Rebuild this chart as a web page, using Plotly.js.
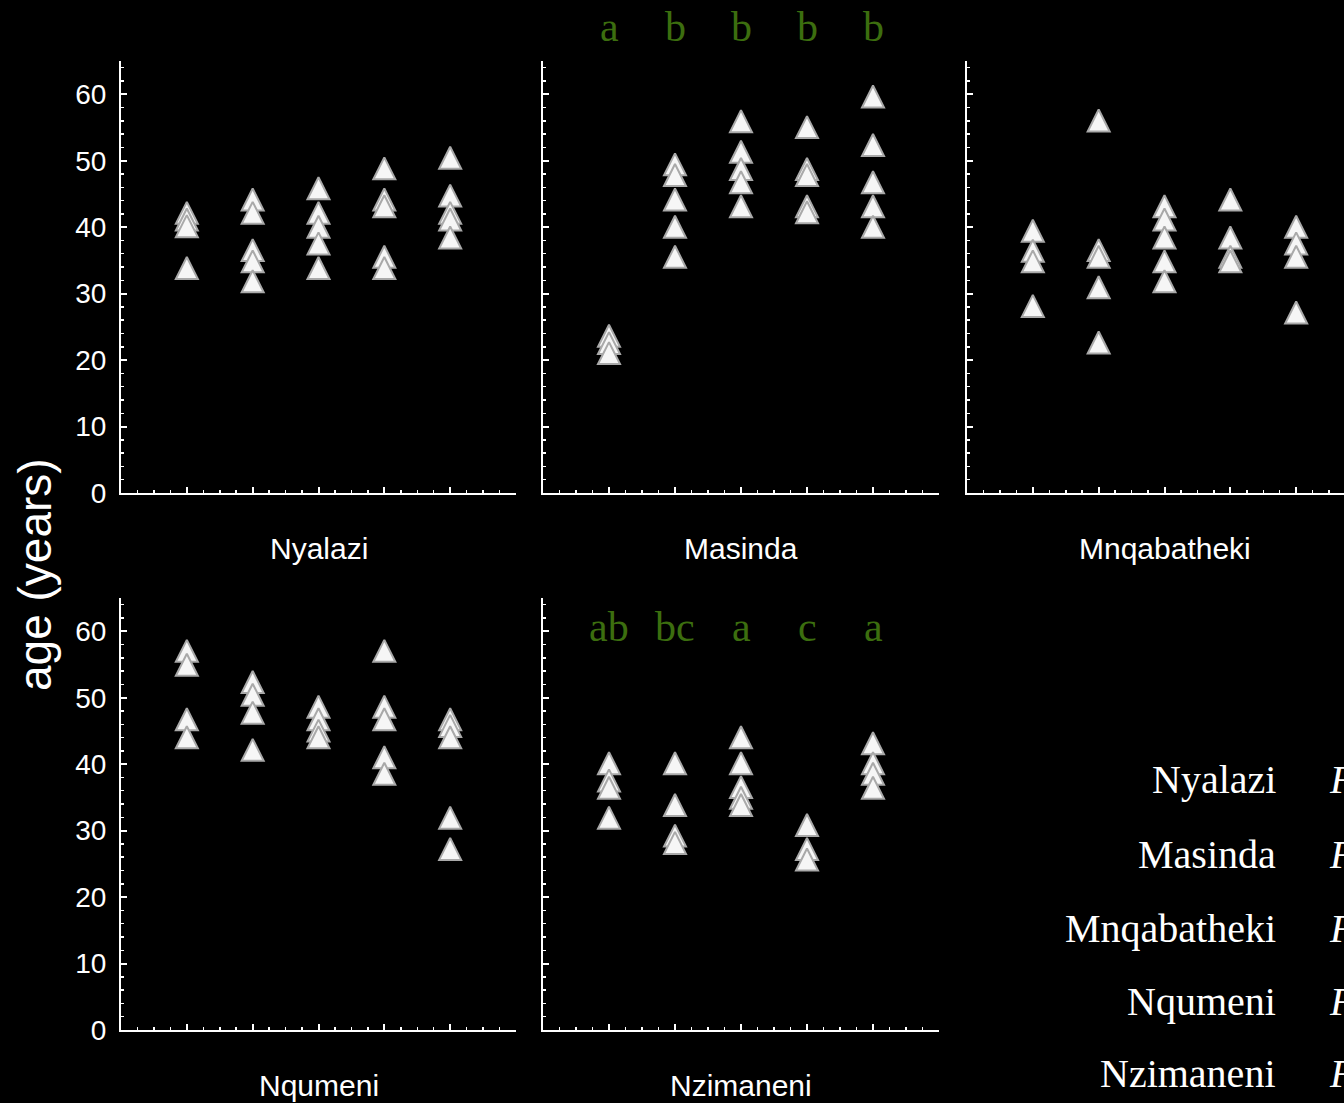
<!DOCTYPE html>
<html>
<head>
<meta charset="utf-8">
<script src="https://cdn.plot.ly/plotly-3.0.1.min.js"></script>
<style>
  html, body { margin: 0; padding: 0; background: #000; }
  #chart { width: 1344px; height: 1103px; }
</style>
</head>
<body>
<div id="chart"></div>
<script>
// Age (years) of sampled individuals, five groups per site
const sites = ['Nyalazi', 'Masinda', 'Mnqabatheki', 'Nqumeni', 'Nzimaneni'];
const groups = [1, 2, 3, 4, 5];

const nyalaziAges = [
  [41.6, 40.6, 39.6, 33.3],
  [43.6, 41.6, 36.0, 34.3, 31.3],
  [45.3, 41.6, 39.5, 37.0, 33.3],
  [48.3, 43.6, 42.6, 35.0, 33.3],
  [49.9, 44.2, 41.6, 40.6, 37.9]
];
const masindaAges = [
  [23.1, 22.0, 20.5],
  [48.9, 47.3, 43.6, 39.5, 35.0],
  [55.4, 50.8, 48.2, 46.2, 42.6],
  [54.5, 48.2, 47.3, 42.6, 41.7],
  [59.1, 51.8, 46.2, 42.6, 39.5]
];
const mnqabathekiAges = [
  [38.9, 35.9, 34.3, 27.6],
  [55.5, 36.0, 35.0, 30.4, 22.1],
  [42.6, 40.6, 37.9, 34.3, 31.3],
  [43.6, 37.9, 35.0, 34.3],
  [39.5, 37.0, 35.0, 26.6]
];
const nqumeniAges = [
  [56.5, 54.4, 46.2, 43.5],
  [51.8, 49.9, 47.2, 41.6],
  [48.1, 46.2, 44.5, 43.5],
  [56.5, 48.1, 46.2, 40.5, 38.0],
  [46.2, 45.2, 43.5, 31.4, 26.7]
];
const nzimaneniAges = [
  [39.6, 37.0, 35.9, 31.4],
  [39.6, 33.3, 28.7, 27.6],
  [43.5, 39.6, 36.0, 34.4, 33.3],
  [30.3, 26.7, 25.1],
  [42.6, 39.6, 38.0, 35.9]
];

// Significance letters (post-hoc groupings)
const masindaLetters = ['a', 'b', 'b', 'b', 'b'];
const nzimaneniLetters = ['ab', 'bc', 'a', 'c', 'a'];

const yTicks = [0, 10, 20, 30, 40, 50, 60];

const W = 1344, H = 1103;
const px = v => v / W;          // pixel -> paper x
const py = v => 1 - v / H;      // pixel -> paper y

const siteAges = [nyalaziAges, masindaAges, mnqabathekiAges, nqumeniAges, nzimaneniAges];
const axisIds = [['x', 'y'], ['x2', 'y2'], ['x3', 'y3'], ['x4', 'y4'], ['x5', 'y5']];

// Upward triangle whose centroid sits on the data point
const MS = 22;
const marker = {
  symbol: 'arrow-down',
  angle: 180,
  standoff: MS * 2 / 3,
  size: MS,
  color: '#f6f6f6',
  line: { color: '#a9a9a9', width: 2 }
};

const traces = siteAges.map((ages, i) => {
  const xs = [], ys = [];
  ages.forEach((vals, g) => vals.forEach(v => { xs.push(groups[g]); ys.push(v); }));
  return {
    type: 'scatter', mode: 'markers', name: sites[i],
    x: xs, y: ys, xaxis: axisIds[i][0], yaxis: axisIds[i][1],
    marker: marker, cliponaxis: false, hoverinfo: 'skip'
  };
});

const tickFont = { family: 'Liberation Sans, Arial, sans-serif', size: 28, color: '#ffffff' };

function xAxis(domain, anchor, maxX) {
  return {
    domain: domain, anchor: anchor, range: [0, maxX],
    tickmode: 'array', tickvals: groups, ticks: 'inside', ticklen: 6, tickwidth: 2, tickcolor: '#fff',
    showticklabels: false, showgrid: false, zeroline: false,
    showline: true, linecolor: '#fff', linewidth: 2,
    minor: { tickmode: 'linear', tick0: 0, dtick: 0.25, ticks: 'inside', ticklen: 3, tickwidth: 1.5, tickcolor: '#fff', showgrid: false },
    automargin: false, fixedrange: true
  };
}
function yAxis(domain, anchor, labels) {
  return {
    domain: domain, anchor: anchor, range: [0, 65],
    tickmode: 'array', tickvals: yTicks, ticks: 'inside', ticklen: 6, tickwidth: 2, tickcolor: '#fff',
    showticklabels: labels, tickfont: tickFont, ticklabelstandoff: 7,
    showgrid: false, zeroline: false,
    showline: true, linecolor: '#fff', linewidth: 2,
    minor: { tickmode: 'linear', tick0: 0, dtick: 2, ticks: 'inside', ticklen: 3, tickwidth: 1.5, tickcolor: '#fff', showgrid: false },
    automargin: false, fixedrange: true
  };
}

const colA = [px(121), px(516)];
const colB = [px(543), px(939)];
const colC = [px(967), 1];
const colCMax = (W - 967) / ((516 - 121) / 6);
const rowTop = [py(493), py(61)];
const rowBot = [py(1030), py(598)];

const annotations = [];
const labelFont = { family: 'Liberation Sans, Arial, sans-serif', size: 30, color: '#ffffff' };
const panelLabels = [
  [sites[0], 318.5, 548], [sites[1], 741, 548], [sites[2], 1164.5, 548],
  [sites[3], 318.5, 1085], [sites[4], 741, 1085]
];
panelLabels.forEach(([t, x, y]) => annotations.push({
  text: t, xref: 'paper', yref: 'paper', x: px(x), y: py(y),
  xanchor: 'center', yanchor: 'middle', showarrow: false, font: labelFont
}));

const letterFont = { family: 'Liberation Serif, Times New Roman, serif', size: 42, color: '#3c6e0f' };
masindaLetters.forEach((t, g) => annotations.push({
  text: t, xref: 'x2', yref: 'paper', x: groups[g], y: py(27),
  xanchor: 'center', yanchor: 'middle', showarrow: false, font: letterFont
}));
nzimaneniLetters.forEach((t, g) => annotations.push({
  text: t, xref: 'x5', yref: 'paper', x: groups[g], y: py(627),
  xanchor: 'center', yanchor: 'middle', showarrow: false, font: letterFont
}));

annotations.push({
  text: 'age (years)', xref: 'paper', yref: 'paper', x: px(35), y: py(575),
  xanchor: 'center', yanchor: 'middle', textangle: -90, showarrow: false,
  font: { family: 'Liberation Sans, Arial, sans-serif', size: 46, color: '#ffffff' }
});

// Site key at lower right
const keyFont = { family: 'Liberation Serif, Times New Roman, serif', size: 40, color: '#ffffff' };
const keyY = [779.5, 854.5, 928.5, 1001.5, 1073.5];
sites.forEach((s, i) => {
  annotations.push({
    text: s, xref: 'paper', yref: 'paper', x: px(1278), y: py(keyY[i]),
    xanchor: 'right', yanchor: 'middle', showarrow: false, font: keyFont
  });
  annotations.push({
    text: '<i>F</i>', xref: 'paper', yref: 'paper', x: px(1327), y: py(keyY[i]),
    xanchor: 'left', yanchor: 'middle', showarrow: false, font: keyFont
  });
});

const layout = {
  width: W, height: H,
  margin: { l: 0, r: 0, t: 0, b: 0, pad: 0 },
  paper_bgcolor: '#000000', plot_bgcolor: '#000000',
  showlegend: false,
  xaxis: xAxis(colA, 'y', 6), yaxis: yAxis(rowTop, 'x', true),
  xaxis2: xAxis(colB, 'y2', 6), yaxis2: yAxis(rowTop, 'x2', false),
  xaxis3: xAxis(colC, 'y3', colCMax), yaxis3: yAxis(rowTop, 'x3', false),
  xaxis4: xAxis(colA, 'y4', 6), yaxis4: yAxis(rowBot, 'x4', true),
  xaxis5: xAxis(colB, 'y5', 6), yaxis5: yAxis(rowBot, 'x5', false),
  annotations: annotations
};

Plotly.newPlot('chart', traces, layout, { displayModeBar: false, staticPlot: true });
</script>
</body>
</html>
